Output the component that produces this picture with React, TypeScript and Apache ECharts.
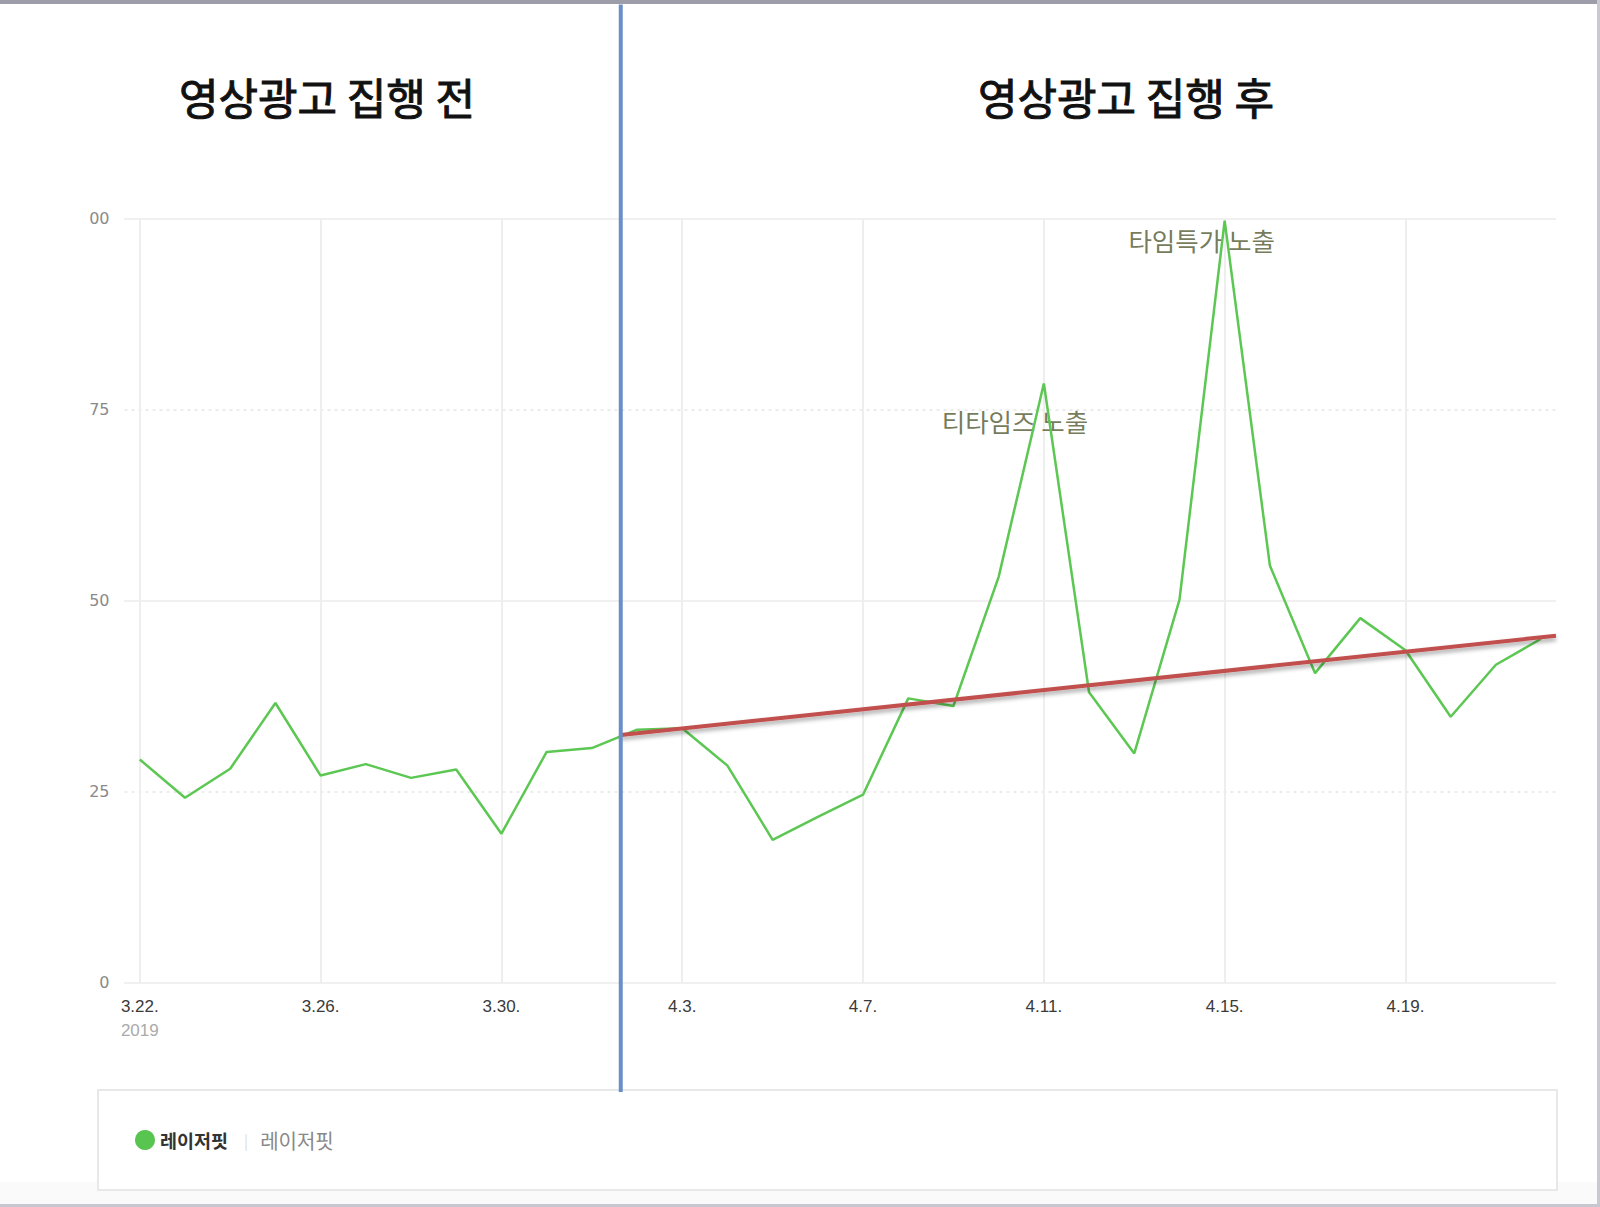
import React, { useEffect, useRef } from "react";
import * as echarts from "echarts";

const dates = [
  "3.22.", "3.23.", "3.24.", "3.25.", "3.26.", "3.27.", "3.28.", "3.29.", "3.30.", "3.31.",
  "4.1.", "4.2.", "4.3.", "4.4.", "4.5.", "4.6.", "4.7.", "4.8.", "4.9.", "4.10.",
  "4.11.", "4.12.", "4.13.", "4.14.", "4.15.", "4.16.", "4.17.", "4.18.", "4.19.", "4.20.",
  "4.21.", "4.22.",
];
const values = [
  29.2, 24.2, 28.0, 36.6, 27.1, 28.6, 26.8, 27.9, 19.5, 30.2,
  30.7, 33.1, 33.3, 28.4, 18.7, 21.7, 24.6, 37.2, 36.2, 53.1,
  78.4, 38.0, 30.0, 50.1, 99.7, 54.6, 40.5, 47.7, 43.5, 34.8,
  41.6, 45.0,
];
const yearLabel = "2019";
const yTickValues = [0, 25, 50, 75, 100];
const yTickLabels = ["0", "25", "50", "75", "00"];
const seriesName = "레이저핏";
const titles = ["영상광고 집행 전", "영상광고 집행 후"];
// x extent in day index (plot area extends slightly past the last day)
const xMax = 31.33;
// trend line endpoints [day index, value]
const trendLine = [
  [10.64, 32.4],
  [31.33, 45.4],
];
// divider between before / after, [day index, value]
const dividerLine = [
  [10.64, 128.0],
  [10.64, -14.3],
];
const annotations = [
  { name: "티타임즈 노출", value: [19.36, 73.6] },
  { name: "타임특가 노출", value: [23.49, 97.3] },
];

const KR = '"Noto Sans CJK KR", "Noto Sans", sans-serif';

export default function App() {
  const ref = useRef<HTMLDivElement>(null);
  useEffect(() => {
    document.body.style.margin = "0";
    const chart = echarts.init(ref.current!, null, { renderer: "svg" });
    const titleStyle = (text: string) => ({
      text,
      fontFamily: KR,
      fontSize: 43,
      fontWeight: "normal",
      fill: "#111111",
      stroke: "#111111",
      lineWidth: 1,
      align: "center",
      verticalAlign: "middle",
    });
    const option: any = {
      animation: false,
      backgroundColor: "#ffffff",
      grid: [
        { left: 139.8, right: 44, top: 218.4, bottom: 224.3 },
        { left: 124.5, right: 44, top: 218.4, bottom: 224.3 },
      ],
      xAxis: [
        {
          type: "value",
          gridIndex: 0,
          min: 0,
          max: xMax,
          interval: 4,
          axisLine: { show: false },
          axisTick: { show: false },
          splitLine: {
            show: true,
            showMaxLine: false,
            lineStyle: { color: "#eeeeee", width: 2 },
          },
          axisLabel: {
            showMaxLabel: false,
            margin: 12,
            formatter: (v: number) => {
              const i = Math.round(v);
              if (Math.abs(v - i) > 1e-6 || i % 4 !== 0 || i > 28) return "";
              if (i === 0) return "{d|" + dates[i] + "}\n{y|" + yearLabel + "}";
              return "{d|" + dates[i] + "}";
            },
            rich: {
              d: {
                fontFamily: '"Liberation Sans Narrow", "Liberation Sans", sans-serif',
                fontSize: 17,
                color: "#3a3a3a",
                lineHeight: 24,
              },
              y: {
                fontFamily: '"Liberation Sans Narrow", "Liberation Sans", sans-serif',
                fontSize: 17,
                color: "#aaaaaa",
                lineHeight: 24,
              },
            },
          },
        },
        { type: "value", gridIndex: 1, min: 0, max: 1, show: false },
      ],
      yAxis: [
        {
          type: "value",
          gridIndex: 0,
          min: 0,
          max: 100,
          interval: 25,
          axisLine: { show: false },
          axisTick: { show: false },
          axisLabel: { show: false },
          splitLine: { show: false },
        },
        {
          type: "value",
          gridIndex: 1,
          min: 0,
          max: 100,
          interval: 25,
          axisLine: { show: false },
          axisTick: { show: false },
          axisLabel: {
            margin: 15,
            fontFamily: '"DejaVu Sans", sans-serif',
            fontSize: 16,
            color: "#8a8a8a",
            formatter: (v: number) => {
              const k = yTickValues.indexOf(v);
              return k >= 0 ? yTickLabels[k] : "";
            },
          },
          splitLine: {
            show: true,
            lineStyle: { color: "#e6e6e6", width: 1.5, type: [3, 4] },
          },
        },
        {
          type: "value",
          gridIndex: 1,
          min: 0,
          max: 100,
          interval: 50,
          axisLine: { show: false },
          axisTick: { show: false },
          axisLabel: { show: false },
          splitLine: {
            show: true,
            lineStyle: { color: "#f0f0f0", width: 2 },
          },
        },
      ],
      legend: {
        data: [seriesName],
        left: 130,
        top: 1125,
        icon: "circle",
        itemWidth: 20,
        itemHeight: 20,
        itemGap: 10,
        formatter: () => "{a|" + seriesName + "}{s||}{b|" + seriesName + "}",
        textStyle: {
          rich: {
            a: { fontFamily: KR, fontSize: 18.5, fontWeight: "bold", color: "#333333" },
            s: { fontFamily: KR, fontSize: 15, color: "#dddddd", padding: [0, 12, 0, 16] },
            b: { fontFamily: KR, fontSize: 20, color: "#888888" },
          },
        },
      },
      series: [
        {
          name: seriesName,
          type: "line",
          xAxisIndex: 0,
          yAxisIndex: 0,
          data: values.map((v, i) => [i, v]),
          showSymbol: false,
          symbol: "none",
          z: 3,
          itemStyle: { color: "#57c54f" },
          lineStyle: { color: "#5cc752", width: 2.5 },
        },
        {
          name: "추세선",
          type: "line",
          xAxisIndex: 0,
          yAxisIndex: 0,
          data: trendLine,
          clip: false,
          symbol: "none",
          z: 4,
          lineStyle: {
            color: "#c0504d",
            width: 4,
            shadowColor: "rgba(0,0,0,0.35)",
            shadowBlur: 4,
            shadowOffsetY: 3,
          },
        },
        {
          name: "구분선",
          type: "line",
          xAxisIndex: 0,
          yAxisIndex: 0,
          data: dividerLine,
          clip: false,
          symbol: "none",
          z: 5,
          lineStyle: { color: "#6a8fc8", width: 4 },
        },
        {
          name: "주석",
          type: "scatter",
          xAxisIndex: 0,
          yAxisIndex: 0,
          data: annotations,
          symbolSize: 1,
          silent: true,
          z: 1,
          itemStyle: { color: "rgba(0,0,0,0)" },
          label: {
            show: true,
            position: "inside",
            formatter: "{b}",
            fontFamily: KR,
            fontSize: 25.5,
            color: "#50582f",
          },
        },
      ],
      graphic: [
        {
          type: "rect",
          z: -10,
          shape: { x: 0, y: 1182, width: 1600, height: 22 },
          style: { fill: "#fafafa" },
        },
        {
          type: "rect",
          z: -5,
          shape: { x: 98, y: 1090, width: 1459, height: 100 },
          style: { fill: "#ffffff", stroke: "#e8e8e8", lineWidth: 2 },
        },
        {
          type: "text",
          x: 327,
          y: 96,
          style: titleStyle(titles[0]),
        },
        {
          type: "text",
          x: 1126,
          y: 96,
          style: titleStyle(titles[1]),
        },
        {
          type: "rect",
          z: 100,
          shape: { x: 0, y: 0, width: 1600, height: 4 },
          style: { fill: "#9c9da8" },
        },
        {
          type: "rect",
          z: 100,
          shape: { x: 1597, y: 0, width: 3, height: 1207 },
          style: { fill: "#c9c9d1" },
        },
        {
          type: "rect",
          z: 100,
          shape: { x: 0, y: 1204, width: 1600, height: 3 },
          style: { fill: "#c6c7d1" },
        },
      ],
    };
    chart.setOption(option);
    return () => chart.dispose();
  }, []);
  return (
    <div
      ref={ref}
      style={{ position: "absolute", left: 0, top: 0, width: 1600, height: 1207 }}
    />
  );
}
